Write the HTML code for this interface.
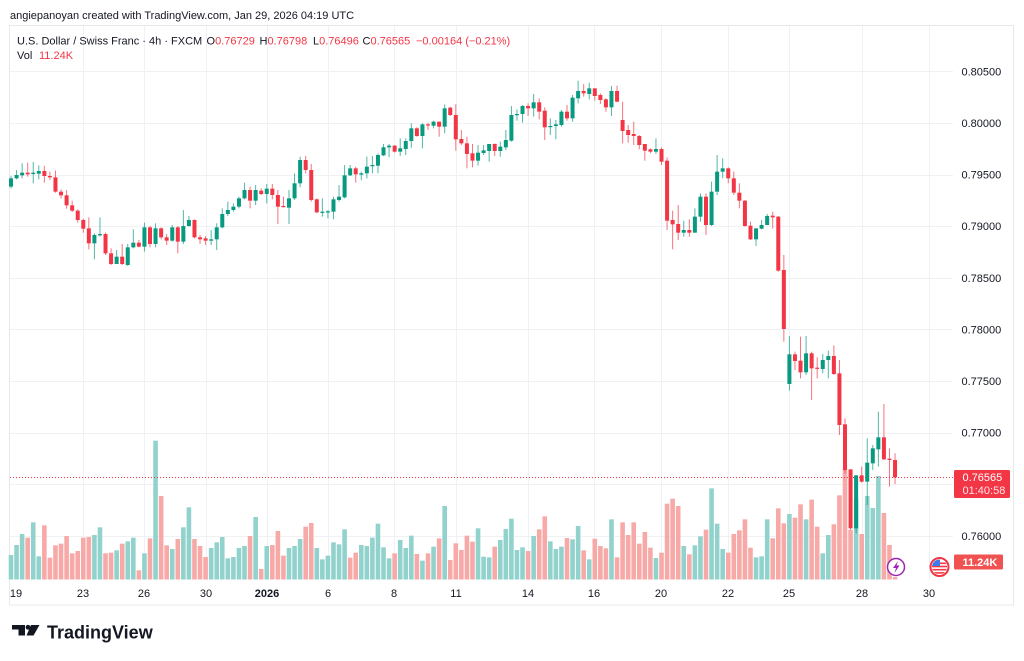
<!DOCTYPE html>
<html>
<head>
<meta charset="utf-8">
<style>
html,body{margin:0;padding:0;background:#fff;width:1024px;height:661px;overflow:hidden;}
svg{position:absolute;left:0;top:0;}
text{font-family:"Liberation Sans",Arial,sans-serif;}
</style>
</head>
<body>
<svg id="s" width="1024" height="661" viewBox="0 0 1024 661" xmlns="http://www.w3.org/2000/svg">
  <rect x="0" y="0" width="1024" height="661" fill="#ffffff"/>
  <!-- frame -->
  <rect x="9.5" y="25.5" width="1004" height="579.5" fill="none" stroke="#e6e8ee" stroke-width="1"/>
  <!-- grid -->
  <g id="grid" stroke="#f0f1f4" stroke-width="1"></g>
  <g id="vol"></g>
  <line x1="10" y1="477.5" x2="954" y2="477.5" stroke="#f23645" stroke-width="1" stroke-dasharray="1,2"/>
  <g id="cdl"></g>

  <!-- header -->
  <text x="10" y="19" font-size="11" fill="#131722">angiepanoyan created with TradingView.com, Jan 29, 2026 04:19 UTC</text>
  <g font-size="11" fill="#131722">
    <text x="17" y="44.5">U.S. Dollar / Swiss Franc · 4h · FXCM</text>
    <text x="206.5" y="44.5">O<tspan fill="#f23645">0.76729</tspan></text>
    <text x="259.5" y="44.5">H<tspan fill="#f23645">0.76798</tspan></text>
    <text x="313" y="44.5">L<tspan fill="#f23645">0.76496</tspan></text>
    <text x="362.5" y="44.5">C<tspan fill="#f23645">0.76565</tspan></text>
    <text x="416" y="44.5" fill="#f23645">−0.00164 (−0.21%)</text>
    <text x="17" y="59">Vol</text>
    <text x="39" y="59" fill="#f23645">11.24K</text>
  </g>

  <!-- price axis labels -->
  <g id="pax" font-size="11" fill="#131722"></g>
  <!-- time axis labels -->
  <g id="tax" font-size="11" fill="#131722" text-anchor="middle"></g>

  <!-- current price label -->
  <rect x="954" y="470" width="56" height="28" rx="1.5" fill="#f23645"/>
  <text x="962.5" y="481" font-size="11" fill="#ffffff">0.76565</text>
  <text x="962.5" y="494" font-size="11" fill="#ffe3e5">01:40:58</text>
  <!-- volume label -->
  <rect x="954" y="554.5" width="49" height="15" rx="1.5" fill="#f05252"/>
  <text x="962.5" y="566" font-size="11" font-weight="bold" fill="#ffffff">11.24K</text>

  <!-- lightning icon -->
  <circle cx="896" cy="567" r="8.5" fill="#ffffff" stroke="#9c27b0" stroke-width="1.5"/>
  <path d="M898,561 L893,568 L896,568 L894.5,573 L899.5,565.5 L896.5,565.5 Z" fill="#9c27b0"/>
  <!-- US flag icon -->
  <defs><clipPath id="fc"><circle cx="939.5" cy="567" r="7.5"/></clipPath></defs>
  <circle cx="939.5" cy="567" r="9" fill="#ffffff" stroke="#f23645" stroke-width="2"/>
  <g clip-path="url(#fc)">
    <rect x="930" y="559" width="20" height="17" fill="#ffffff"/>
    <rect x="930" y="562.5" width="20" height="1.6" fill="#f23645"/>
    <rect x="930" y="565.7" width="20" height="1.6" fill="#f23645"/>
    <rect x="930" y="568.9" width="20" height="1.6" fill="#f23645"/>
    <rect x="930" y="572.1" width="20" height="1.6" fill="#f23645"/>
    <rect x="930" y="559" width="10" height="7" fill="#3d7be8"/>
  </g>

  <!-- TradingView logo -->
  <g fill="#131722">
    <rect x="12" y="625" width="13" height="4.5"/>
    <rect x="18.5" y="625" width="6.5" height="10.5"/>
    <circle cx="28" cy="627.3" r="2.4"/>
    <polygon points="31,625 39.5,625 33.5,635.5 26.5,635.5"/>
  </g>
  <text x="47" y="638.5" font-size="18" font-weight="bold" fill="#131722">TradingView</text>
</svg>
<script>
(function(){
var NS='http://www.w3.org/2000/svg';
function el(tag,attrs,parent){var e=document.createElementNS(NS,tag);for(var k in attrs)e.setAttribute(k,attrs[k]);parent.appendChild(e);return e;}
function X(i){return 11+5.56*i;}

// grid
var g=document.getElementById('grid');
var pys=[];
for(var k=0;k<10;k++){var p=0.805-0.005*k;var y=123+(0.8-p)*10320;pys.push([p,y]);}
pys.forEach(function(a){var y=Math.round(a[1])+0.5;el('line',{x1:10,x2:953,y1:y,y2:y},g);});
var vx=[83,144,206,267,328,394,456,528,594,661,728,789,862,929];
vx.forEach(function(x){el('line',{x1:x+0.5,x2:x+0.5,y1:26,y2:580},g);});

// price axis labels
var pax=document.getElementById('pax');
pys.forEach(function(a){var p=a[0];if(Math.abs(p-0.765)<1e-6)return;var t=el('text',{x:961.5,y:(a[1]+4).toFixed(1)},pax);t.textContent=p.toFixed(5);});

// time axis
var tax=document.getElementById('tax');
var tl=[[16,'19'],[83,'23'],[144,'26'],[206,'30'],[267,'2026'],[328,'6'],[394,'8'],[456,'11'],[528,'14'],[594,'16'],[661,'20'],[728,'22'],[789,'25'],[862,'28'],[929,'30']];
tl.forEach(function(a){var t=el('text',{x:a[0],y:597},tax);if(a[1]==='2026')t.setAttribute('font-weight','bold');t.textContent=a[1];});

// candles: [dir, bodyTop, bodyBot, wickTop, wickBot] in zoom coords (3x) with y offset
var A=[['g',115,140,108,145],['g',105,115,90,118],['g',98,106,70,115],['r',98,103,68,110],['g',98,102,66,130],['g',93,101,76,118],['r',93,108,78,128],['r',108,112,95,120],['r',112,155,92,158],['r',155,166,148,175],
['r',166,196,150,206],['r',196,212,182,216],['r',212,240,208,248],['r',240,266,236,278],['r',265,310,232,328],['g',285,310,280,358],['g',282,286,232,290],['r',282,340,278,345],['r',340,372,325,375],['g',350,372,330,372],
['r',350,372,312,375],['g',322,375,312,378],['g',308,322,268,325],['r',308,320,300,322],['g',262,320,248,335],['r',262,312,258,322],['g',265,312,250,322],['r',265,292,262,298],['r',292,302,282,315],['g',262,302,255,305],
['r',262,305,258,340],['g',258,305,210,312],['g',240,258,228,260],['r',240,292,238,295],['r',292,298,285,312],['r',295,302,288,315],['g',298,302,270,315],['g',262,298,250,330],['g',222,262,205,265],['g',210,222,185,228],
['g',200,210,190,215],['g',175,200,170,205],['g',150,175,128,178],['r',150,182,140,205],['g',150,182,135,195],['r',152,162,145,165],['g',146,162,132,190],['r',146,165,132,178],['r',165,200,150,252],['r',198,200,170,202],
['g',175,203,150,252],['g',130,175,100,180],['g',60,130,50,142],['r',60,90,48,100],['r',90,180,72,185],['r',178,217,175,220]];
var B=[['g',425,428,385,440],['g',424,427,420,445],['g',388,425,380,448],['g',380,390,345,395],['g',316,382,285,385],['g',295,316,285,318],['r',295,313,290,338],['g',310,314,305,330],['g',290,310,260,325],['g',285,288,258,310],
['g',255,287,250,310],['g',232,256,222,258],['g',227,232,222,262],['r',227,245,225,248],['g',235,245,205,258],['g',213,237,205,255],['g',175,213,160,233],['r',175,198,172,200],['g',163,198,160,235],['r',163,166,158,180],
['g',155,167,152,175],['r',155,170,155,200],['g',115,170,103,190],['r',113,135,110,138],['r',135,208,103,242],['r',207,220,180,225],['r',220,252,200,295],['r',250,272,222,292],['g',248,272,225,287],['g',241,249,225,255],
['g',222,243,222,275],['r',222,243,220,258],['g',230,243,215,260],['g',210,232,180,240],['g',135,212,108,215],['g',132,135,118,152],['g',108,132,105,158],['r',108,115,100,138],['g',97,115,72,140],['r',97,125,85,148]];
var C=[['r',122,172,112,210],['g',168,171,145,195],['g',163,168,150,208],['g',125,165,120,170],['r',125,145,105,152],['g',83,145,75,155],['g',63,85,32,100],['r',63,70,42,80],['g',55,72,38,88],['r',55,78,55,92],
['r',75,90,70,102],['r',88,112,85,125],['g',63,112,48,138],['r',63,95,47,97],['r',150,183,95,220],['r',180,195,165,218],['r',192,198,155,225],['r',198,225,195,238],['r',222,242,222,272],['r',238,245,235,250],
['g',237,245,205,252],['r',237,275,232,285],['r',272,452,262,480],['r',450,463,422,538],['r',462,488,405,510],['g',480,488,452,500],['r',480,488,448,500],['g',440,488,415,488],['g',380,440,370,455],['r',380,465,370,495],
['g',365,465,335,468],['g',305,365,255,375],['g',295,305,265,325],['r',295,325,292,340],['r',325,368,305,375],['r',368,392,340,415],['r',392,468,390,470],['r',467,508,455,510],['g',475,508,475,528],['g',465,476,450,478],
['g',438,465,432,465]];
var D=[['r',47,52,35,85],['r',50,212,48,215],['r',210,387,165,425],['g',463,552,408,572],['r',463,483,455,510],['r',482,517,410,535],['g',460,517,408,525],['r',460,505,455,600],['r',503,506,472,535],['g',480,507,462,520],
['g',468,480,452,535],['r',468,522,436,525],['r',520,675,480,705],['r',673,810,655,820],['r',808,985,808,990],['g',826,985,826,1000],['r',826,845,800,848],['g',788,845,715,915],['g',745,790,735,810],['g',712,748,635,800],
['r',712,778,612,780],['r',776,780,745,860],['r',780,832,760,852]];

// volume
var vg=document.getElementById('vol');
var VA=[375,345,312,323,277,379,286,383,346,341,318,370,363,323,321,315,292,370,368,361,341,334,323,421,370,325,32,198,346,357,327,292,232,327,348,381,354,337,321,385,381,354,348,318,261,417,348,345,303,377,354,348,327,290,279,354,388,377,337,343,298,383,368,345,348,323,281,352,385,370,330,354,317,372,392,370,350,325,228];
var VAc="gggrggrrrrrrrrrggrrgrggrgrgrrgrggrrrgggggggrgrgrrrgggrrggggggrrggggggrgggrgrgrg";
var VB=[['r',270],['r',220],['r',240],['r',197],['r',215],['g',175],['g',260],['g',262],['r',230],['g',210],['g',177],['g',146],['g',240],['g',232],['r',243],['g',198],['r',178],['r',139],['g',214],['g',237],['g',230],['r',204],['g',208],['g',168],['r',241],['g',268],['r',206],['r',228],['r',235],['g',148],['r',262],['r',157],['r',195],['r',157],['r',221],['r',186],['r',233],['g',264],['r',248],['r',101],['r',86],['r',108],['g',228],['r',253],['g',226],['g',199],['r',179],['g',55],['g',161],['g',237],['r',248],['r',192],['r',181],['r',148],['r',233],['g',262],['g',259],['g',148],['r',205],['r',115],['r',160],['g',132],['r',143],['r',103],['g',148],['r',89],['r',170],['g',250],['g',195],['r',163],['r',76]];
var VC=[['r',469],['r',530],['g',499],['r',534],['g',496],['g',508],['g',476],['r',513],['r',545],['r',577]];
var vols=[];
for(var i=0;i<VA.length;i++)vols.push([VAc.charAt(i)||'g',430+VA[i]/3]);
VB.forEach(function(v){vols.push([v[0],470+v[1]/3]);});
VC.forEach(function(v){vols.push([v[0],v[1]]);});
var base=579.5;
vols.forEach(function(v,i){var cx=X(i);var top=v[1];el('rect',{x:(cx-2.3).toFixed(2),y:top.toFixed(2),width:4.6,height:Math.max(0.5,base-top).toFixed(2),fill:v[0]==='g'?'#92d2cc':'#f7a9a7'},vg);});

// candles
var cg=document.getElementById('cdl');
var segs=[[140,A],[70,B],[70,C],[200,D]];
var idx=0;
segs.forEach(function(s){var off=s[0];s[1].forEach(function(c){var cx=X(idx);var col=c[0]==='g'?'#089981':'#f23645';
 var bt=off+c[1]/3,bb=off+c[2]/3,wt=off+c[3]/3,wb=off+c[4]/3;
 el('line',{x1:cx.toFixed(2),x2:cx.toFixed(2),y1:wt.toFixed(2),y2:wb.toFixed(2),stroke:col,'stroke-width':1,'stroke-opacity':0.7},cg);
 el('rect',{x:(cx-2).toFixed(2),y:bt.toFixed(2),width:4,height:Math.max(1.2,bb-bt).toFixed(2),fill:col},cg);
 idx++;});});
})();
</script>
</body>
</html>
